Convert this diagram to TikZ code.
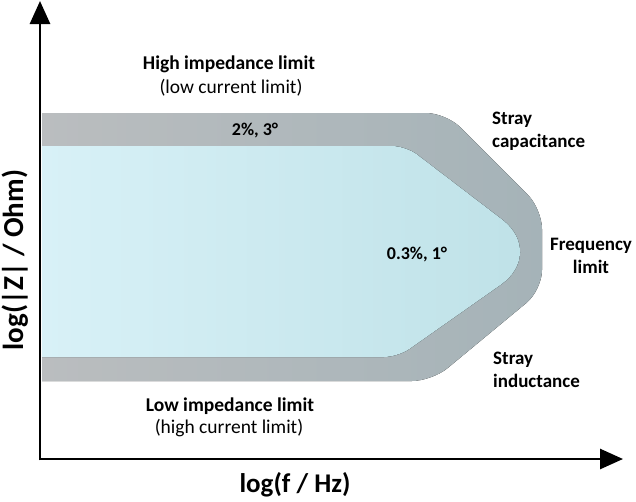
\documentclass[tikz,border=0pt]{standalone}
\usepackage{fontspec}
\setmainfont{Carlito}
\usetikzlibrary{arrows.meta}

\begin{document}
\begin{tikzpicture}[x=1pt,y=-1pt,
    axis/.style={line width=2.8pt, -{Triangle[length=23pt,width=20pt]}},
    head/.style={font=\bfseries\fontsize{19.5}{23}\selectfont, align=center, inner sep=0pt, anchor=base},
    sub/.style={font=\fontsize{19.5}{23}\selectfont, align=center, inner sep=0pt, anchor=base},
    val/.style={font=\bfseries\fontsize{18}{21}\selectfont, inner sep=0pt, anchor=base},
    side/.style={font=\bfseries\fontsize{19}{23}\selectfont, inner sep=0pt},
    axlabel/.style={font=\bfseries\fontsize{27}{32}\selectfont, inner sep=0pt, anchor=base}]

    \useasboundingbox (0,0) rectangle (636,501);

    % accuracy bands
    \fill[left color={rgb,255:red,186;green,189;blue,191}, right color={rgb,255:red,165;green,179;blue,184}]
    (42,113) [rounded corners=20pt] -- (446,113) -- (542,209) -- (542,290) -- (432,381)
    [sharp corners] -- (42,381) -- cycle;
    \fill[left color={rgb,255:red,216;green,241;blue,247}, right color={rgb,255:red,190;green,225;blue,231}]
    (42,146) [rounded corners=14pt] -- (406,146) [rounded corners=55pt] -- (546,253)
    [rounded corners=14pt] -- (398,357) [sharp corners] -- (42,357) -- cycle;

    % axes
    \coordinate (origin) at (40,459);
    \coordinate (ytip) at (40,1);
    \coordinate (xtip) at (623,459);
    \draw[axis] (40,460.4) -- (ytip);
    \draw[axis] (origin) -- (xtip);

    \node[head](highlim) at (229,69) {High impedance limit};
    \node[sub](lowcur) at (231,93) {(low current limit)};
    \node[head](lowlim) at (230,411) {Low impedance limit};
    \node[sub](highcur) at (229,433) {(high current limit)};

    \node[val](outerval) at (255,135) {2\%, 3°};
    \node[val](innerval) at (417,259) {0.3\%, 1°};

    \node[side, align=left, anchor=base west](straycap) at (492,147) {Stray\\capacitance};
    \node[side, align=center, anchor=base](freqlim) at (591,273) {Frequency\\limit};
    \node[side, align=left, anchor=base west](strayind) at (493,387) {Stray\\inductance};

    \node[axlabel](xlabel) at (295,492) {log(f / Hz)};
    \node[axlabel, rotate=90, font=\bfseries\fontsize{29}{32}\selectfont](ylabel) at (23,260) {log(|Z| / Ohm)};
\end{tikzpicture}
\end{document}
